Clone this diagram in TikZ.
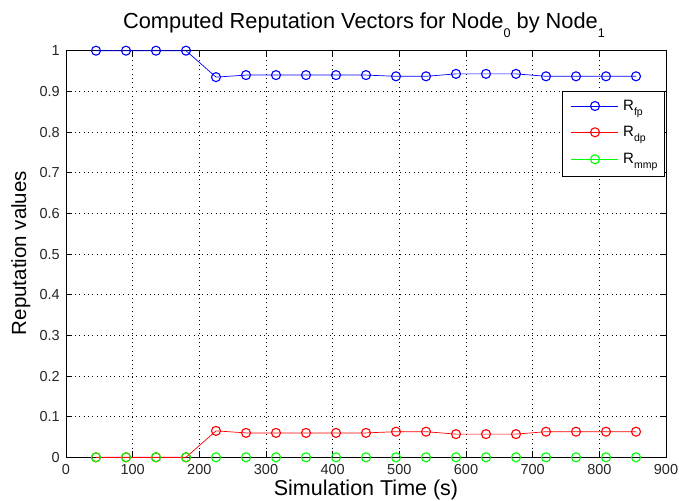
\documentclass[tikz,border=0pt]{standalone}
\usepackage{fontspec}
\setmainfont{Liberation Sans}
\begin{document}
\begin{tikzpicture}[x=1pt,y=1pt,
  ticklabel/.style={font=\fontsize{14.5}{16}\selectfont, text=black!85, inner sep=0pt},
  gridline/.style={line width=0.7pt, dash pattern=on 0.8pt off 3.6pt},
  frame/.style={line width=0.8pt, black},
  series/.style={line width=0.7pt},
  mk/.style={line width=1.1pt},
  legendtext/.style={font=\fontsize{15}{17}\selectfont, inner sep=0pt, anchor=base west},
  axislabel/.style={font=\fontsize{20.5}{24}\selectfont, inner sep=0pt},
]
\useasboundingbox (0,0) rectangle (679,500);
\fill[white] (0,0) rectangle (679,500);

% title
\node[font=\fontsize{21.8}{25}\selectfont, inner sep=0pt, anchor=base] (title) at (364,471)
  {Computed Reputation Vectors for Node\raisebox{-9pt}{\fontsize{12.6}{14}\selectfont 0} by Node\raisebox{-9pt}{\fontsize{12.6}{14}\selectfont 1}};
% axis labels
\node[axislabel, font=\fontsize{21.5}{24}\selectfont, anchor=base] (xlabel) at (366,5) {Simulation Time (s)};
\node[axislabel, anchor=base, rotate=90] (ylabel) at (26,247) {Reputation values};

\begin{scope}[shift={(66pt,42.7pt)}, x=0.666667pt, y=406.6pt]
  % grid
  \foreach \v in {100,200,...,800} \draw[gridline] (\v,0) -- (\v,1);
  \foreach \k in {1,...,9} \draw[gridline] (0,\k/10) -- (900,\k/10);

  % green series line (beneath the frame)
  \draw[green, series] (45,0) -- (855,0);

  % frame and ticks
  \draw[frame] (0,0) rectangle (900,1);
  \foreach \v in {100,200,...,800} {
    \draw[frame] (\v,0) -- ++(0pt,6pt);
    \draw[frame] (\v,1) -- ++(0pt,-6pt);
  }
  \foreach \k in {1,...,9} {
    \draw[frame] (0,\k/10) -- ++(6pt,0pt);
    \draw[frame] (900,\k/10) -- ++(-6pt,0pt);
  }
  % x tick labels
  \foreach \v in {0,100,...,900}
    \node[ticklabel, anchor=base, yshift=-17pt] (xt\v) at (\v,0) {\v};
  % y tick labels
  \node[ticklabel, anchor=base east, xshift=-6pt, yshift=-5.2pt] (yt0) at (0,0) {0};
  \foreach \k in {1,...,9}
    \node[ticklabel, anchor=base east, xshift=-6pt, yshift=-5.2pt] (yt\k) at (0,\k/10) {0.\k};
  \node[ticklabel, anchor=base east, xshift=-6pt, yshift=-5.2pt] (yt10) at (0,1) {1};

  % red series
  \draw[red, series] (45,0) -- (90,0) -- (135,0) -- (180,0) -- (225,0.065) -- (270,0.06) -- (315,0.06) -- (360,0.06) -- (405,0.06) -- (450,0.06) -- (495,0.063) -- (540,0.063) -- (585,0.057) -- (630,0.057) -- (675,0.057) -- (720,0.063) -- (765,0.063) -- (810,0.063) -- (855,0.063);
  \draw[red, line width=1.3pt] (45,0) -- (180,0);
  % blue series
  \draw[blue, series] (45,1) -- (90,1) -- (135,1) -- (180,1) -- (225,0.935) -- (270,0.94) -- (315,0.94) -- (360,0.94) -- (405,0.94) -- (450,0.94) -- (495,0.937) -- (540,0.937) -- (585,0.943) -- (630,0.943) -- (675,0.943) -- (720,0.937) -- (765,0.937) -- (810,0.937) -- (855,0.937);

  % markers
  \foreach \x/\y in {45/1,90/1,135/1,180/1,225/0.935,270/0.94,315/0.94,360/0.94,405/0.94,450/0.94,495/0.937,540/0.937,585/0.943,630/0.943,675/0.943,720/0.937,765/0.937,810/0.937,855/0.937}
    \draw[blue, mk] (\x,\y) circle[radius=4.5pt];
  \foreach \x/\y in {45/0,90/0,135/0,180/0,225/0.065,270/0.06,315/0.06,360/0.06,405/0.06,450/0.06,495/0.063,540/0.063,585/0.057,630/0.057,675/0.057,720/0.063,765/0.063,810/0.063,855/0.063}
    \draw[red, mk] (\x,\y) circle[radius=4.5pt];
  \foreach \x in {45,90,...,855}
    \draw[green, mk] (\x,0) circle[radius=4.5pt];
\end{scope}

% legend
\draw[fill=white, line width=0.7pt] (562.3,323.3) rectangle (664,408.3);
\coordinate (la1) at (571,394);
\coordinate (lb1) at (618,394);
\coordinate (la2) at (571,367.7);
\coordinate (lb2) at (618,367.7);
\coordinate (la3) at (571,340.7);
\coordinate (lb3) at (618,340.7);
\draw[blue, series] (la1) -- (lb1);
\draw[blue, mk] (595,394) circle[radius=4.5pt];
\draw[red, series] (la2) -- (lb2);
\draw[red, mk] (595,367.7) circle[radius=4.5pt];
\draw[green, series] (la3) -- (lb3);
\draw[green, mk] (595,340.7) circle[radius=4.5pt];
\node[legendtext] (leg1) at (623,389.3) {R\raisebox{-5pt}{\fontsize{10.5}{12}\selectfont fp}};
\node[legendtext] (leg2) at (623,363) {R\raisebox{-5pt}{\fontsize{10.5}{12}\selectfont dp}};
\node[legendtext] (leg3) at (623,336) {R\raisebox{-5pt}{\fontsize{10.5}{12}\selectfont mmp}};
\end{tikzpicture}
\end{document}
